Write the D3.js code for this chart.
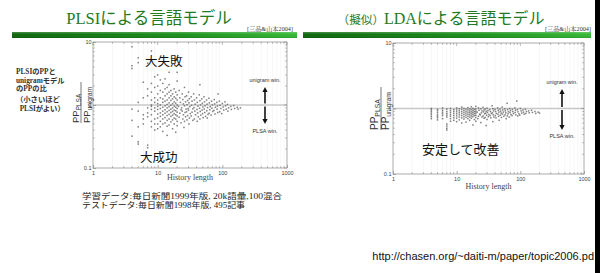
<!DOCTYPE html>
<html><head><meta charset="utf-8">
<script src="https://cdn.jsdelivr.net/npm/d3@7"></script>
<style>
html,body{margin:0;padding:0;background:#fff;}
svg{display:block;}
</style></head>
<body><svg id="c" width="600" height="273"></svg>
<script>
// ---------------- data ----------------
const leftTitle = "PLSIによる言語モデル";
const rightTitlePre = "（擬似）";
const rightTitleMain = "LDAによる言語モデル";
const citation = "[三品&山本2004]";
const xTickValues = [1, 10, 100, 1000];
const xTickLabels = ["1", "10", "100", "1000"];
const yTickValues = [0.1, 1, 10];
const yTickLabels = ["0.1", "1", "10"];
const xDomain = [1, 1000];
const yDomain = [0.1, 10];
const xLabel = "History length";
const winLabels = ["unigram win.", "PLSA win."];
const sideNote = ["PLSIのPPと", "unigramモデル", "のPPの比", "（小さいほど", "  PLSIがよい）"];
const leftAnnot = ["大失敗", "大成功"];
const rightAnnot = "安定して改善";
const footNote = ["学習データ:毎日新聞1999年版, 20k語彙,100混合", "テストデータ:毎日新聞1998年版, 495記事"];
const urlText = "http://chasen.org/~daiti-m/paper/topic2006.pd";

const leftPoints = [
[4,8.4],[4,4.2],[4,3.8],[4,0.86],[4,0.57],[4,0.32],
[5,5.6],[5,4.7],[5,1.1],[5,0.8],[5,0.45],[5,0.26],[5,0.24],
[6,2.3],[6,1.3],[6,0.7],[6,0.6],[6,0.5],
[7,4.6],[7,1.8],[7,1.4],[7,0.9],[7,0.75],[7,0.65],[7,0.23],[7,0.21],
[8,7.2],[8,2.2],[8,1.6],[8,1.2],[8,1.0],[8,0.95],[8,0.85],[8,0.7],[8,0.55],[8,0.45],
[9,2.8],[9,1.9],[9,1.3],[9,1.1],[9,0.9],[9,0.8],[9,0.6],[9,0.5],[9,0.4],
[10,3.0],[10,2.0],[10,1.5],[10,1.2],[10,1.05],[10,0.95],[10,0.85],[10,0.72],[10,0.62],[10,0.5],[10,0.42],
[11,2.5],[11,1.7],[11,1.3],[11,1.0],[11,0.88],[11,0.75],[11,0.66],[11,0.55],[11,0.45],
[12,2.2],[12,1.6],[12,1.25],[12,1.1],[12,0.92],[12,0.8],[12,0.7],[12,0.6],[12,0.5],[12,0.38],
[13,2.6],[13,1.8],[13,1.4],[13,1.15],[13,0.97],[13,0.84],[13,0.74],[13,0.63],[13,0.52],
[14,1.9],[14,1.5],[14,1.2],[14,1.02],[14,0.9],[14,0.78],[14,0.68],[14,0.57],[14,0.46],[14,0.33],
[15,3.3],[15,2.1],[15,1.6],[15,1.3],[15,1.08],[15,0.94],[15,0.82],[15,0.71],[15,0.6],[15,0.48],
[16,1.7],[16,1.4],[16,1.18],[16,0.99],[16,0.86],[16,0.76],[16,0.66],[16,0.54],
[17,1.5],[17,1.25],[17,1.05],[17,0.9],[17,0.79],[17,0.69],[17,0.58],[17,0.42],
[18,1.8],[18,1.35],[18,1.12],[18,0.96],[18,0.83],[18,0.73],[18,0.62],[18,0.5],
[19,1.6],[19,1.28],[19,1.07],[19,0.92],[19,0.81],[19,0.7],[19,0.6],[19,0.37],
[20,3.3],[20,2.4],[20,1.45],[20,1.2],[20,1.0],[20,0.88],[20,0.77],[20,0.67],[20,0.55],[20,0.47],
[21.5,1.7],[22,1.3],[22.5,1.1],[21,0.95],[23,0.84],[22,0.74],[21.5,0.64],[23,0.52],
[24,1.5],[24.5,1.22],[25,1.04],[23.5,0.9],[24,0.8],[25,0.7],[24.5,0.6],[25.5,0.44],
[26,1.9],[26.5,1.35],[27,1.12],[26,0.97],[27.5,0.86],[26.5,0.76],[27,0.65],[26,0.55],
[28,1.4],[29,1.18],[28.5,1.01],[29.5,0.88],[28,0.78],[29,0.68],[28.5,0.58],
[30,1.6],[31,1.26],[30.5,1.08],[31.5,0.94],[30,0.83],[32,0.73],[31,0.62],[30.5,0.5],
[33,1.35],[34,1.15],[33.5,0.99],[35,0.87],[34,0.77],[33,0.67],[35,0.57],
[36,1.5],[37,1.2],[38,1.03],[36.5,0.91],[37.5,0.8],[38.5,0.7],[37,0.6],
[40,1.3],[41,1.1],[42,0.96],[40.5,0.85],[41.5,0.75],[42.5,0.65],[41,0.55],
[44,1.45],[45,2.1],[45,1.17],[46,1.0],[44.5,0.89],[45.5,0.79],[46.5,0.69],[45,0.6],
[48,1.25],[49,1.06],[50,0.93],[48.5,0.83],[49.5,0.73],[50.5,0.63],
[52,1.35],[53,1.12],[54,0.97],[52.5,0.86],[53.5,0.76],[55,0.66],
[57,1.2],[58,1.03],[59,0.91],[57.5,0.81],[60,0.71],[58.5,0.62],
[62,1.28],[63,1.08],[65,0.94],[64,0.84],[62.5,0.74],
[68,1.15],[70,1.0],[69,0.89],[71,0.79],[67,0.69],
[75,1.22],[76,1.04],[78,0.92],[74,0.82],[77,0.72],
[82,1.1],[84,0.96],[86,1.5],[83,0.86],[85,0.76],
[90,1.15],[92,0.99],[95,0.88],[91,0.78],
[100,1.06],[103,0.93],[105,0.83],[98,0.73],
[110,1.12],[112,0.97],[115,0.86],
[120,1.02],[125,0.9],[122,0.8],
[135,0.95],[138,0.85],
[150,0.98],[155,0.88],
[170,0.92],[175,0.86],
[190,0.9]
];

const rightPoints = [
[4,1.0],[4,0.95],[4,0.9],[4,0.85],[4,0.8],[4,0.75],[4,0.7],
[5,0.97],[5,0.92],[5,0.86],[5,0.8],[5,0.76],[5,0.72],[5,0.67],
[6,1.02],[6,0.94],[6,0.88],[6,0.83],[6,0.78],[6,0.7],
[7,0.98],[7,0.9],[7,0.84],[7,0.79],[7,0.74],[7,0.58],[7,0.54],[7,0.5],[7,0.47],
[8,1.0],[8,0.93],[8,0.87],[8,0.81],[8,0.76],[8,0.7],[8,0.64],
[9,0.96],[9,0.9],[9,0.84],[9,0.78],[9,0.72],[9,0.66],
[10,1.02],[10,0.95],[10,0.89],[10,0.83],[10,0.77],[10,0.71],[10,0.63],
[11,0.99],[11,0.92],[11,0.86],[11,0.8],[11,0.74],[11,0.67],
[12,1.05],[12,0.97],[12,0.9],[12,0.84],[12,0.78],[12,0.72],[12,0.6],
[13,1.0],[13,0.93],[13,0.87],[13,0.81],[13,0.75],[13,0.69],
[14,0.98],[14,0.91],[14,0.85],[14,0.79],[14,0.73],[14,0.62],
[15,1.03],[15,0.95],[15,0.88],[15,0.82],[15,0.76],[15,0.7],
[16,0.99],[16,0.92],[16,0.86],[16,0.8],[16,0.74],[16,0.66],
[17,1.06],[17,0.96],[17,0.89],[17,0.83],[17,0.77],[17,0.71],
[18,1.0],[18,0.93],[18,0.87],[18,0.81],[18,0.75],[18,0.56],
[19,0.97],[19,0.9],[19,0.84],[19,0.78],[19,0.68],
[20,1.08],[20,0.98],[20,0.91],[20,0.85],[20,0.79],[20,0.73],[20,0.64],
[22,1.02],[22.5,0.94],[21,0.88],[23,0.82],[22,0.76],[21.5,0.7],
[24,0.99],[25,0.92],[24.5,0.86],[23.5,0.8],[25,0.74],[24,0.61],
[26,1.04],[27,0.95],[26.5,0.89],[27.5,0.83],[26,0.77],[27,0.71],
[28,0.98],[29,0.91],[28.5,0.85],[29.5,0.79],[28,0.73],[29,0.55],
[30,1.01],[31,0.93],[30.5,0.87],[32,0.81],[31.5,0.75],[30,0.68],
[33,0.96],[34,0.9],[35,0.84],[33.5,0.78],[34.5,0.72],
[36,1.1],[37,0.99],[38,0.92],[36.5,0.86],[37.5,0.8],[38.5,0.74],[37,0.63],
[40,0.97],[41,0.9],[42,0.84],[40.5,0.78],[41.5,0.72],
[44,1.02],[45,0.94],[46,0.88],[44.5,0.82],[45.5,0.76],[46.5,0.66],
[48,0.98],[49,0.91],[50,0.85],[48.5,0.79],[50.5,0.73],
[52,1.05],[53,0.95],[54,0.88],[52.5,0.82],[55,0.76],
[57,0.99],[58,0.92],[59,0.86],[57.5,0.8],[60,0.7],
[62,1.2],[63,0.96],[65,0.89],[64,0.83],[62.5,0.77],
[68,1.0],[70,0.93],[69,0.87],[71,0.81],[67,0.74],
[75,0.97],[76,0.9],[78,0.84],[74,0.78],
[82,1.02],[84,0.94],[88,1.3],[83,0.87],[85,0.8],
[90,0.96],[92,0.89],[95,0.83],[91,0.77],
[100,1.0],[103,0.92],[105,0.85],[98,0.79],
[110,0.95],[112,0.88],[115,0.82],
[120,0.97],[125,0.9],[122,0.84],
[135,0.92],[138,0.86],
[150,0.94],[155,0.87],
[170,0.9],[175,0.84],
[190,0.88],[200,0.85]
];

// ---------------- drawing ----------------
const svg = d3.select("#c");
const SERIF = "'Liberation Serif','Times New Roman','Noto Serif CJK JP','Noto Sans CJK JP',serif";
const JSANS = "'Liberation Serif','Noto Sans CJK JP',sans-serif";
const SANS = "'Liberation Sans',Arial,sans-serif";
const GREEN = "#237a23";

svg.append("rect").attr("width",600).attr("height",273).attr("fill","#fff");

const defs = svg.append("defs");
const grad = defs.append("linearGradient").attr("id","gbar").attr("x1","0").attr("x2","1").attr("y1","0").attr("y2","0");
grad.append("stop").attr("offset","0%").attr("stop-color","#0a650a");
grad.append("stop").attr("offset","60%").attr("stop-color","#1a8f1a");
grad.append("stop").attr("offset","100%").attr("stop-color","#33b833");
const gv = defs.append("linearGradient").attr("id","gshine").attr("x1","0").attr("x2","0").attr("y1","0").attr("y2","1");
gv.append("stop").attr("offset","0%").attr("stop-color","#fff").attr("stop-opacity",0.25);
gv.append("stop").attr("offset","45%").attr("stop-color","#fff").attr("stop-opacity",0);
gv.append("stop").attr("offset","100%").attr("stop-color","#000").attr("stop-opacity",0.15);

function header(x0, x1, citeX) {
  svg.append("rect").attr("x",x0).attr("y",32).attr("width",x1-x0).attr("height",6).attr("fill","url(#gbar)");
  svg.append("rect").attr("x",x0).attr("y",32).attr("width",x1-x0).attr("height",6).attr("fill","url(#gshine)");
  svg.append("text").attr("x",citeX).attr("y",31).attr("text-anchor","end")
    .attr("font-family",SERIF).attr("font-size",6.2).attr("fill","#333").text(citation);
}
header(12, 297, 293);
header(303, 591, 591);

svg.append("text").attr("x",149).attr("y",24).attr("text-anchor","middle")
  .attr("font-family",JSANS).attr("font-size",16.5).attr("fill",GREEN).text(leftTitle);
const rt = svg.append("text").attr("x",441).attr("y",24).attr("text-anchor","middle")
  .attr("font-family",JSANS).attr("fill",GREEN);
rt.append("tspan").attr("font-size",11.6).text(rightTitlePre);
rt.append("tspan").attr("font-size",16).text(rightTitleMain);

function panel(points, box, opt) {
  const x = d3.scaleLog().domain(xDomain).range([box.x0, box.x1]);
  const y = d3.scaleLog().domain(yDomain).range([box.y1, box.y0]);
  const g = svg.append("g");
  const minorX = [];
  for (let d = 1; d < 1000; d *= 10) for (let k = 2; k <= 9; k++) minorX.push(d*k);
  const minorY = [];
  for (let d = 0.1; d < 9; d *= 10) for (let k = 2; k <= 9; k++) minorY.push(d*k);
  g.selectAll(".gx").data(minorX).join("line")
    .attr("x1",d=>x(d)).attr("x2",d=>x(d)).attr("y1",box.y0).attr("y2",box.y1)
    .attr("stroke","#f1f1f1").attr("stroke-width",0.6);
  g.append("line").attr("x1",box.x0).attr("x2",box.x1).attr("y1",y(1)).attr("y2",y(1))
    .attr("stroke","#c8c8c8").attr("stroke-width",1.6);
  const axB = d3.axisBottom(x).tickValues(xTickValues).tickFormat((d,i)=>xTickLabels[i]).tickSizeInner(-3).tickSizeOuter(0).tickPadding(3);
  const axL = d3.axisLeft(y).tickValues(yTickValues).tickFormat((d,i)=>yTickLabels[i]).tickSizeInner(-3).tickSizeOuter(0).tickPadding(1.5);
  const gb = g.append("g").attr("transform",`translate(0,${box.y1})`).call(axB);
  const gl = g.append("g").attr("transform",`translate(${box.x0},0)`).call(axL);
  [gb, gl].forEach(a => {
    a.select(".domain").remove();
    a.selectAll(".tick line").attr("stroke","#777").attr("stroke-width",0.6);
    a.selectAll(".tick text").attr("font-family",SANS).attr("font-size",5.5).attr("fill","#444");
  });
  gl.selectAll(".tick text").attr("dy","0.35em");
  const tk = g.append("g").attr("stroke","#777").attr("stroke-width",0.5);
  minorX.forEach(v => {
    tk.append("line").attr("x1",x(v)).attr("x2",x(v)).attr("y1",box.y1).attr("y2",box.y1-1.8);
    tk.append("line").attr("x1",x(v)).attr("x2",x(v)).attr("y1",box.y0).attr("y2",box.y0+1.8);
  });
  xTickValues.forEach(v => tk.append("line").attr("x1",x(v)).attr("x2",x(v)).attr("y1",box.y0).attr("y2",box.y0+3));
  minorY.forEach(v => {
    tk.append("line").attr("x1",box.x0).attr("x2",box.x0+1.8).attr("y1",y(v)).attr("y2",y(v));
    tk.append("line").attr("x1",box.x1).attr("x2",box.x1-1.8).attr("y1",y(v)).attr("y2",y(v));
  });
  yTickValues.forEach(v => tk.append("line").attr("x1",box.x1).attr("x2",box.x1-3).attr("y1",y(v)).attr("y2",y(v)));
  g.append("rect").attr("x",box.x0).attr("y",box.y0).attr("width",box.x1-box.x0).attr("height",box.y1-box.y0)
    .attr("fill","none").attr("stroke","#888").attr("stroke-width",0.7);
  g.selectAll(".pt").data(points).join("rect")
    .attr("x",d=>x(d[0])-0.75).attr("y",d=>y(d[1])-0.75).attr("width",1.5).attr("height",1.5)
    .attr("fill","#555").attr("opacity",0.75);
  g.append("text").attr("x",(box.x0+box.x1)/2).attr("y",opt.xlabY).attr("text-anchor","middle")
    .attr("font-family",SERIF).attr("font-size",8).attr("fill","#444").text(xLabel);
  const f = g.append("g").attr("transform",`translate(${opt.fx},${opt.fy}) rotate(-90)`);
  f.append("line").attr("x1",opt.u0).attr("x2",opt.u1).attr("y1",0).attr("y2",0).attr("stroke","#555").attr("stroke-width",0.8);
  const n = f.append("text").attr("x",opt.u0).attr("y",opt.vn).attr("font-family",SANS).attr("font-size",opt.fs).attr("fill","#333");
  n.append("tspan").text("PP");
  n.append("tspan").attr("font-size",opt.fs*0.68).attr("dy",1.5).text("PLSA");
  const dn = f.append("text").attr("x",opt.u0).attr("y",opt.vd).attr("font-family",SANS).attr("font-size",opt.fs).attr("fill","#333");
  dn.append("tspan").text("PP");
  dn.append("tspan").attr("font-size",opt.fs*0.68).attr("dy",1.5).text("unigram");
  const ax = opt.arrowX, yc = y(1);
  g.append("text").attr("x",ax).attr("y",opt.upLabY).attr("text-anchor","middle").attr("font-family",SANS)
    .attr("font-size",5.5).attr("fill","#333").text(winLabels[0]);
  g.append("text").attr("x",ax).attr("y",opt.dnLabY).attr("text-anchor","middle").attr("font-family",SANS)
    .attr("font-size",5.5).attr("fill","#333").text(winLabels[1]);
  g.append("line").attr("x1",ax).attr("x2",ax).attr("y1",opt.upTop+4).attr("y2",yc-1.5).attr("stroke","#111").attr("stroke-width",1.6);
  g.append("path").attr("d",`M${ax-2.6},${opt.upTop+5} L${ax},${opt.upTop} L${ax+2.6},${opt.upTop+5} Z`).attr("fill","#111");
  g.append("line").attr("x1",ax).attr("x2",ax).attr("y1",yc+1.5).attr("y2",opt.dnBot-4).attr("stroke","#111").attr("stroke-width",1.6);
  g.append("path").attr("d",`M${ax-2.6},${opt.dnBot-5} L${ax},${opt.dnBot} L${ax+2.6},${opt.dnBot-5} Z`).attr("fill","#111");
  return {x, y, g};
}

panel(leftPoints, {x0:93, x1:287, y0:42, y1:168},
  {xlabY:180, fx:81, fy:104, u0:-19, u1:22, vn:-2, vd:9, fs:9.5, arrowX:265, upLabY:82, dnLabY:133, upTop:87, dnBot:124});
panel(rightPoints, {x0:393, x1:584, y0:43, y1:174},
  {xlabY:189, fx:381, fy:108, u0:-22, u1:21, vn:-3, vd:8, fs:10, arrowX:562, upLabY:84, dnLabY:138, upTop:89, dnBot:130});

svg.append("text").attr("x",145).attr("y",66).attr("font-family",JSANS).attr("font-size",12.5).attr("fill","#111").text(leftAnnot[0]);
svg.append("text").attr("x",140).attr("y",162).attr("font-family",JSANS).attr("font-size",12.5).attr("fill","#111").text(leftAnnot[1]);
svg.append("text").attr("x",422).attr("y",154).attr("font-family",JSANS).attr("font-size",13).attr("fill","#111").text(rightAnnot);

const sn = svg.append("text").attr("font-family",JSANS).attr("font-size",7.3).attr("fill","#333").attr("font-weight","bold");
sideNote.forEach((s,i)=>{
  sn.append("tspan").attr("x",16).attr("y",[74,83,91,102,111][i]).attr("xml:space","preserve").text(s);
});

const footLen = [200, 163];
footNote.forEach((s,i)=>{
  svg.append("text").attr("x",82).attr("y",199+i*9).attr("font-family",JSANS).attr("font-size",8.2)
    .attr("textLength",footLen[i]).attr("lengthAdjust","spacingAndGlyphs").attr("fill","#222").text(s);
});

svg.append("text").attr("x",594).attr("y",260).attr("text-anchor","end").attr("font-family",SANS)
  .attr("font-size",11).attr("fill","#111").text(urlText);

svg.append("rect").attr("x",595).attr("y",0).attr("width",5).attr("height",273).attr("fill","#000");
</script>
</body></html>
